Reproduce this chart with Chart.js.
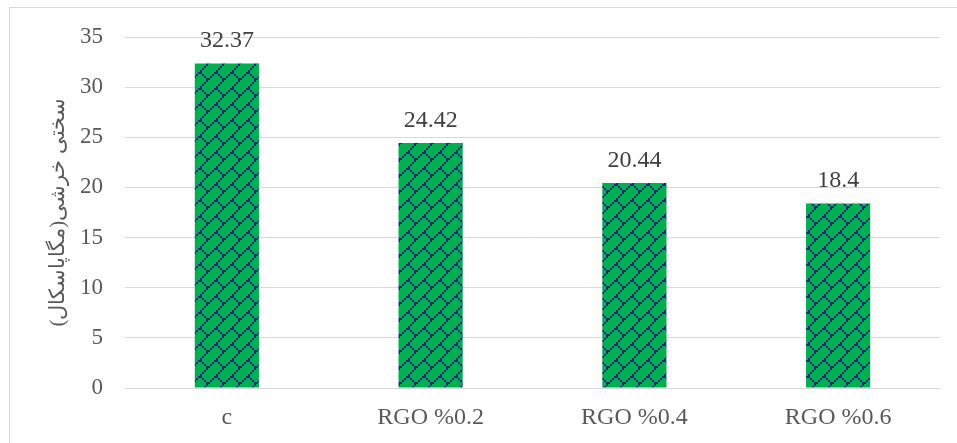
<!DOCTYPE html>
<html>
<head>
<meta charset="utf-8">
<script src="https://cdn.jsdelivr.net/npm/chart.js@4/dist/chart.umd.min.js"></script>
<style>
  html, body { margin: 0; padding: 0; background: #ffffff; }
  #wrap { width: 957px; height: 443px; position: relative; }
</style>
</head>
<body>
<div id="wrap"><canvas id="c" width="957" height="443"></canvas></div>
<script>
// Categories and measured values
const categories = ['c', 'RGO %0.2', 'RGO %0.4', 'RGO %0.6'];
const strengthValues = [32.37, 24.42, 20.44, 18.4];
const valueLabels = ['32.37', '24.42', '20.44', '18.4'];
const yTitle = 'سختی خرشی(مگاپاسکال)';

const SERIF = '"Liberation Serif", "Times New Roman", "DejaVu Serif", serif';
const GREEN = '#00B050';
const NAVY = '#1C2A80';

// Diagonal brick fill (8x8 bitmap, drawn at 2x)
function brickPattern(ctx) {
  const rows = [0x80, 0x40, 0x20, 0x10, 0x18, 0x24, 0x42, 0x81];
  const s = 2;
  const tile = document.createElement('canvas');
  tile.width = 8 * s; tile.height = 8 * s;
  const t = tile.getContext('2d');
  t.fillStyle = GREEN;
  t.fillRect(0, 0, tile.width, tile.height);
  t.fillStyle = NAVY;
  rows.forEach((bits, r) => {
    for (let b = 0; b < 8; b++) {
      if (bits & (1 << (7 - b))) {
        t.fillRect((7 - b) * s, r * s, s, s);
      }
    }
  });
  return ctx.createPattern(tile, 'repeat');
}

const ctx = document.getElementById('c').getContext('2d');

// Light frame around the chart
const framePlugin = {
  id: 'frame',
  beforeDraw(chart) {
    const c = chart.ctx;
    c.save();
    c.strokeStyle = '#D9D9D9';
    c.lineWidth = 1;
    c.beginPath();
    c.moveTo(9.5, 1000);
    c.lineTo(9.5, 7.5);
    c.lineTo(1000, 7.5);
    c.stroke();
    c.restore();
  }
};

// Value labels above each bar
const valueLabelPlugin = {
  id: 'valueLabels',
  afterDatasetsDraw(chart) {
    const c = chart.ctx;
    const meta = chart.getDatasetMeta(0);
    c.save();
    c.font = '24px ' + SERIF;
    c.fillStyle = '#404040';
    c.textAlign = 'center';
    c.textBaseline = 'alphabetic';
    meta.data.forEach((bar, i) => {
      c.fillText(valueLabels[i], bar.x, bar.y - 16);
    });
    c.restore();
  }
};

new Chart(ctx, {
  type: 'bar',
  data: {
    labels: categories,
    datasets: [{
      data: strengthValues,
      backgroundColor: brickPattern(ctx),
      borderWidth: 0,
      categoryPercentage: 1.0,
      barPercentage: 0.315
    }]
  },
  options: {
    responsive: false,
    animation: false,
    devicePixelRatio: 1,
    layout: { padding: { top: 37, right: 17, bottom: 0, left: 0 } },
    plugins: {
      legend: { display: false },
      tooltip: { enabled: false }
    },
    scales: {
      x: {
        grid: { display: false, drawTicks: false },
        border: { display: true, color: '#D9D9D9', width: 1 },
        ticks: {
          color: '#595959',
          font: { family: SERIF, size: 24 },
          padding: 15,
          maxRotation: 0
        },
        afterFit(scale) { scale.height = 55; }
      },
      y: {
        min: 0,
        max: 35,
        ticks: {
          stepSize: 5,
          color: '#595959',
          font: { family: SERIF, size: 23 },
          padding: 22
        },
        grid: { color: '#D9D9D9', lineWidth: 1, drawTicks: false },
        border: { display: false },
        title: {
          display: true,
          text: yTitle,
          color: '#595959',
          font: { family: SERIF, size: 21 },
          padding: { top: 46, bottom: 0 }
        },
        afterFit(scale) { scale.width = 125; }
      }
    }
  },
  plugins: [framePlugin, valueLabelPlugin]
});
</script>
</body>
</html>
